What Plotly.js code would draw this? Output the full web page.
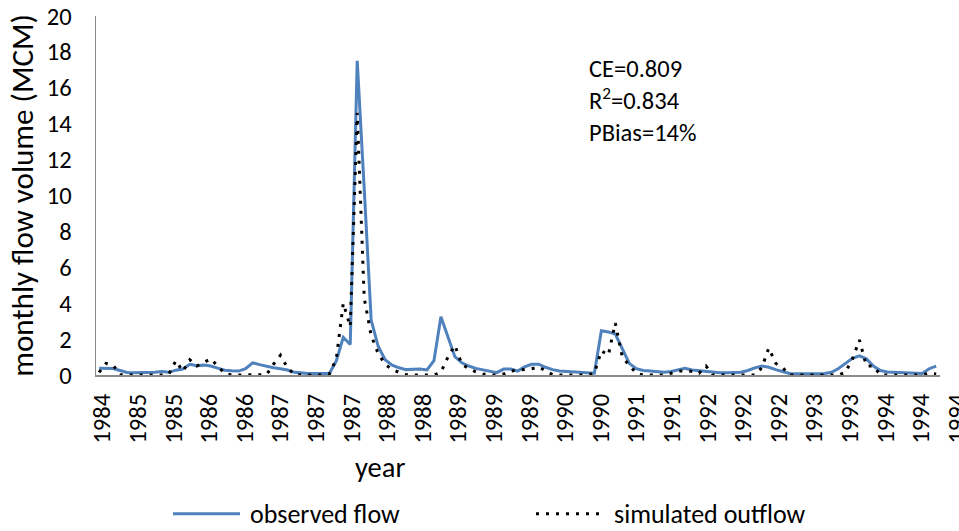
<!DOCTYPE html>
<html>
<head>
<meta charset="utf-8">
<script src="https://cdn.plot.ly/plotly-3.0.1.min.js"></script>
<style>html,body{margin:0;padding:0;background:#fff;} #chart{width:959px;height:531px;}</style>
</head>
<body>
<div id="chart"></div>
<script>
// Monthly flow volume (MCM), 121 consecutive months
const observedFlow = [
  0.37, 0.37, 0.36, 0.25, 0.14, 0.13, 0.13, 0.13, 0.15, 0.20,
  0.15, 0.27, 0.33, 0.60, 0.52, 0.55, 0.50, 0.38, 0.27, 0.24,
  0.22, 0.35, 0.68, 0.58, 0.47, 0.40, 0.35, 0.28, 0.15, 0.10,
  0.08, 0.08, 0.10, 0.08, 0.78, 2.10, 1.70, 17.50, 10.40, 3.06,
  1.60, 0.85, 0.55, 0.40, 0.30, 0.33, 0.33, 0.28, 0.80, 3.25,
  2.10, 1.02, 0.68, 0.50, 0.37, 0.28, 0.19, 0.13, 0.33, 0.33,
  0.22, 0.46, 0.60, 0.60, 0.43, 0.30, 0.22, 0.19, 0.15, 0.13,
  0.10, 0.10, 2.47, 2.40, 2.28, 1.50, 0.65, 0.35, 0.25, 0.22,
  0.19, 0.15, 0.20, 0.30, 0.37, 0.28, 0.24, 0.20, 0.15, 0.13,
  0.13, 0.13, 0.15, 0.25, 0.40, 0.50, 0.43, 0.30, 0.17, 0.08,
  0.07, 0.07, 0.07, 0.07, 0.08, 0.15, 0.36, 0.65, 0.93, 1.07,
  0.90, 0.50, 0.25, 0.17, 0.15, 0.13, 0.13, 0.10, 0.09, 0.35,
  0.50
];
const simulatedOutflow = [
  0.15, 0.65, 0.55, 0.02, 0.00, 0.00, 0.00, 0.00, 0.00, 0.00,
  0.05, 0.80, 0.20, 0.85, 0.50, 0.68, 0.90, 0.50, 0.08, 0.00,
  0.00, 0.00, 0.00, 0.00, 0.02, 0.60, 1.10, 0.40, 0.02, 0.00,
  0.00, 0.00, 0.00, 0.05, 0.90, 4.00, 2.70, 14.60, 4.30, 2.20,
  1.20, 0.60, 0.30, 0.15, 0.02, 0.00, 0.00, 0.00, 0.00, 0.15,
  1.00, 1.65, 0.60, 0.35, 0.18, 0.06, 0.00, 0.00, 0.05, 0.22,
  0.27, 0.30, 0.35, 0.45, 0.25, 0.02, 0.00, 0.00, 0.00, 0.00,
  0.00, 0.10, 1.35, 1.10, 2.90, 1.00, 0.55, 0.10, 0.00, 0.00,
  0.00, 0.00, 0.10, 0.20, 0.25, 0.20, 0.10, 0.50, 0.00, 0.00,
  0.00, 0.00, 0.00, 0.00, 0.00, 0.40, 1.50, 0.65, 0.40, 0.00,
  0.00, 0.00, 0.00, 0.00, 0.00, 0.00, 0.00, 0.15, 0.90, 1.95,
  0.50, 0.50, 0.00, 0.00, 0.00, 0.00, 0.00, 0.00, 0.00, 0.10,
  0.05
];
const yearTickLabels = ['1984','1985','1985','1986','1986','1987','1987','1987','1988','1988',
  '1989','1989','1989','1990','1990','1991','1991','1992','1992','1992',
  '1993','1993','1994','1994','1994'];
const statsLines = ['CE=0.809', 'R<sup>2</sup>=0.834', 'PBias=14%'];
const seriesNames = ['observed flow', 'simulated outflow'];
const xTitle = 'year';
const yTitle = 'monthly flow volume (MCM)';

// layout helpers
const monthIdx = observedFlow.map((_, i) => i);
const labelStart = 0.46, labelStep = 5.104;
const tickPositions = yearTickLabels.map((_, k) => labelStart + k * labelStep);
const xMin = -0.45, xMax = 120.55;
const plotL = 96, plotT = 15.5, plotB = 375;
const plotW = 959 - plotL;       // full paper width
const plotH = plotB - plotT;
const mainW = 844;               // axis-line width
const pxPerMonth = mainW / (xMax - xMin);
const x2Max = xMin + plotW / pxPerMonth;
const px = v => (v - plotL) / plotW;   // pixel -> paper x
const py = v => (plotB - v) / plotH;   // pixel -> paper y

const FONT = 'Carlito, Lato, sans-serif';
const GREY = '#898989';
const BLUE = '#4F81BD';
const DOTS = '3px,7px';

const traces = [
  {x: monthIdx, y: observedFlow, name: seriesNames[0], type: 'scatter', mode: 'lines',
   line: {color: BLUE, width: 3}, xaxis: 'x', yaxis: 'y'},
  {x: monthIdx, y: simulatedOutflow, name: seriesNames[1], type: 'scatter', mode: 'lines',
   line: {color: '#000000', width: 3, dash: DOTS}, xaxis: 'x', yaxis: 'y'},
  // carrier for the tick-label axis (draws nothing)
  {x: [0], y: [null], type: 'scatter', mode: 'lines', showlegend: false, hoverinfo: 'skip',
   xaxis: 'x2', yaxis: 'y'}
];

const legendY = 514;
const layout = {
  width: 959, height: 531,
  margin: {l: plotL, r: 0, t: plotT, b: 531 - plotB, autoexpand: false},
  paper_bgcolor: '#fff', plot_bgcolor: 'rgba(0,0,0,0)',
  font: {family: FONT, color: '#000', size: 20},
  showlegend: false,
  xaxis: {domain: [0, mainW / plotW], range: [xMin, xMax], showline: true, linecolor: GREY, linewidth: 1.5,
          showgrid: false, zeroline: false, ticks: '', showticklabels: false, anchor: 'y'},
  xaxis2: {domain: [0, 1], range: [xMin, x2Max], anchor: 'y', showline: false, showgrid: false, zeroline: false,
           ticks: '', tickmode: 'array', tickvals: tickPositions, ticktext: yearTickLabels,
           tickangle: -90, tickfont: {family: FONT, size: 24.5, color: '#000'},
           ticklabeloverflow: 'allow', ticklabelstandoff: 13},
  yaxis: {range: [0, 20], dtick: 2, tick0: 0, showline: true, linecolor: GREY, linewidth: 1.5,
          showgrid: false, zeroline: false, ticks: '', anchor: 'x',
          tickfont: {family: FONT, size: 24.5, color: '#000'}, ticklabelstandoff: 18,
          title: {text: yTitle, font: {family: FONT, size: 31, color: '#000'}, standoff: 4}},
  shapes: [
    {type: 'line', xref: 'paper', yref: 'paper', x0: px(173), x1: px(240), y0: py(legendY), y1: py(legendY),
     line: {color: BLUE, width: 3}},
    {type: 'line', xref: 'paper', yref: 'paper', x0: px(536), x1: px(603), y0: py(legendY), y1: py(legendY),
     line: {color: '#000', width: 3, dash: DOTS}}
  ],
  annotations: [
    {xref: 'paper', yref: 'paper', x: px(587), y: py(52), xanchor: 'left', yanchor: 'top',
     align: 'left', showarrow: false, text: statsLines.join('<br>'),
     font: {family: FONT, size: 24.5, color: '#000'}},
    {xref: 'paper', yref: 'paper', x: px(380), y: py(468), xanchor: 'center', yanchor: 'middle',
     showarrow: false, text: xTitle, font: {family: FONT, size: 28.5, color: '#000'}},
    {xref: 'paper', yref: 'paper', x: px(248), y: py(legendY), xanchor: 'left', yanchor: 'middle',
     showarrow: false, text: seriesNames[0], font: {family: FONT, size: 26, color: '#000'}},
    {xref: 'paper', yref: 'paper', x: px(612), y: py(legendY), xanchor: 'left', yanchor: 'middle',
     showarrow: false, text: seriesNames[1], font: {family: FONT, size: 26, color: '#000'}}
  ]
};

Plotly.newPlot('chart', traces, layout, {displayModeBar: false, staticPlot: true});
</script>
</body>
</html>
